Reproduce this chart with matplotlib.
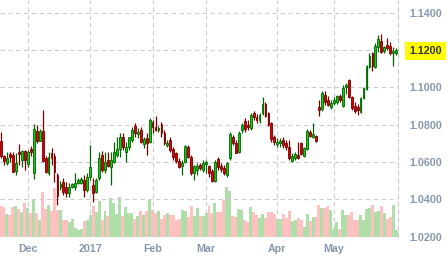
import numpy as np
import matplotlib.pyplot as plt

plt.rcParams['font.family'] = ['Liberation Sans', 'DejaVu Sans']

# daily candles (mid Nov 2016 .. end of May 2017)
opens = [1.0712, 1.0633, 1.0593, 1.0643, 1.0637, 1.0553, 1.0655, 1.0610, 1.0659, 1.0589,
         1.0669, 1.0542, 1.0766, 1.0714, 1.0766, 1.0621, 1.0542, 1.0650, 1.0632, 1.0530,
         1.0466, 1.0492, 1.0466, 1.0432, 1.0466, 1.0466, 1.0486, 1.0489, 1.0503, 1.0450,
         1.0519, 1.0476, 1.0441, 1.0514, 1.0637, 1.0557, 1.0610, 1.0575, 1.0601, 1.0637,
         1.0668, 1.0735, 1.0655, 1.0678, 1.0718, 1.0794, 1.0748, 1.0771, 1.0696, 1.0727,
         1.0708, 1.0816, 1.0786, 1.0771, 1.0803, 1.0757, 1.0689, 1.0718, 1.0668, 1.0648,
         1.0607, 1.0578, 1.0601, 1.0682, 1.0628, 1.0542, 1.0557, 1.0584, 1.0557, 1.0589,
         1.0578, 1.0553, 1.0499, 1.0614, 1.0578, 1.0569, 1.0530, 1.0620, 1.0735, 1.0703,
         1.0652, 1.0771, 1.0819, 1.0798, 1.0780, 1.0861, 1.0843, 1.0825, 1.0864, 1.0911,
         1.0861, 1.0807, 1.0735, 1.0696, 1.0700, 1.0718, 1.0703, 1.0682, 1.0607, 1.0620,
         1.0637, 1.0700, 1.0633, 1.0669, 1.0762, 1.0732, 1.0739, 1.0893, 1.0882, 1.0959,
         1.0932, 1.0893, 1.0914, 1.0920, 1.0954, 1.0900, 1.1000, 1.1039, 1.0950, 1.0900,
         1.0896, 1.0869, 1.0941, 1.0989, 1.1110, 1.1186, 1.1110, 1.1214, 1.1250, 1.1196,
         1.1227, 1.1221, 1.1182, 1.1186]
highs = [1.0762, 1.0638, 1.0655, 1.0655, 1.0655, 1.0646, 1.0696, 1.0664, 1.0664, 1.0664,
         1.0685, 1.0803, 1.0798, 1.0777, 1.0878, 1.0632, 1.0655, 1.0673, 1.0646, 1.0539,
         1.0498, 1.0512, 1.0493, 1.0485, 1.0490, 1.0542, 1.0512, 1.0518, 1.0530, 1.0539,
         1.0691, 1.0512, 1.0512, 1.0655, 1.0659, 1.0655, 1.0655, 1.0655, 1.0708, 1.0735,
         1.0753, 1.0755, 1.0708, 1.0735, 1.0786, 1.0807, 1.0780, 1.0789, 1.0735, 1.0753,
         1.0834, 1.0825, 1.0846, 1.0792, 1.0816, 1.0771, 1.0718, 1.0735, 1.0682, 1.0655,
         1.0620, 1.0610, 1.0691, 1.0691, 1.0637, 1.0584, 1.0596, 1.0593, 1.0610, 1.0610,
         1.0584, 1.0560, 1.0610, 1.0628, 1.0593, 1.0584, 1.0601, 1.0761, 1.0744, 1.0718,
         1.0766, 1.0807, 1.0834, 1.0825, 1.0861, 1.0875, 1.0857, 1.0861, 1.0950, 1.0923,
         1.0870, 1.0816, 1.0744, 1.0727, 1.0727, 1.0735, 1.0718, 1.0718, 1.0646, 1.0655,
         1.0708, 1.0708, 1.0682, 1.0775, 1.0771, 1.0807, 1.0744, 1.0932, 1.0980, 1.0980,
         1.0954, 1.0932, 1.0946, 1.0959, 1.0964, 1.1012, 1.1025, 1.1043, 1.0954, 1.0923,
         1.0911, 1.0946, 1.1003, 1.1120, 1.1186, 1.1191, 1.1236, 1.1280, 1.1286, 1.1221,
         1.1263, 1.1245, 1.1214, 1.1209]
lows = [1.0621, 1.0584, 1.0584, 1.0601, 1.0546, 1.0530, 1.0584, 1.0575, 1.0557, 1.0571,
        1.0632, 1.0507, 1.0700, 1.0712, 1.0600, 1.0539, 1.0530, 1.0584, 1.0494, 1.0369,
        1.0450, 1.0425, 1.0412, 1.0414, 1.0460, 1.0450, 1.0480, 1.0484, 1.0414, 1.0441,
        1.0503, 1.0387, 1.0432, 1.0503, 1.0548, 1.0539, 1.0575, 1.0476, 1.0593, 1.0628,
        1.0628, 1.0664, 1.0601, 1.0664, 1.0708, 1.0735, 1.0727, 1.0700, 1.0673, 1.0637,
        1.0700, 1.0753, 1.0767, 1.0762, 1.0735, 1.0691, 1.0682, 1.0655, 1.0610, 1.0593,
        1.0566, 1.0530, 1.0593, 1.0620, 1.0530, 1.0503, 1.0530, 1.0557, 1.0548, 1.0539,
        1.0521, 1.0494, 1.0494, 1.0557, 1.0548, 1.0530, 1.0521, 1.0610, 1.0691, 1.0646,
        1.0646, 1.0753, 1.0762, 1.0771, 1.0771, 1.0825, 1.0807, 1.0807, 1.0852, 1.0843,
        1.0793, 1.0708, 1.0691, 1.0678, 1.0682, 1.0673, 1.0664, 1.0610, 1.0601, 1.0610,
        1.0614, 1.0637, 1.0628, 1.0664, 1.0732, 1.0727, 1.0708, 1.0846, 1.0875, 1.0905,
        1.0900, 1.0882, 1.0905, 1.0911, 1.0921, 1.0895, 1.0964, 1.0941, 1.0878, 1.0861,
        1.0852, 1.0864, 1.0936, 1.0986, 1.1102, 1.1089, 1.1102, 1.1191, 1.1186, 1.1182,
        1.1200, 1.1173, 1.1114, 1.1173]
closes = [1.0633, 1.0605, 1.0621, 1.0628, 1.0548, 1.0596, 1.0641, 1.0659, 1.0610, 1.0655,
          1.0653, 1.0777, 1.0714, 1.0766, 1.0607, 1.0548, 1.0628, 1.0620, 1.0548, 1.0417,
          1.0482, 1.0439, 1.0434, 1.0467, 1.0482, 1.0489, 1.0503, 1.0509, 1.0450, 1.0521,
          1.0573, 1.0432, 1.0503, 1.0621, 1.0557, 1.0601, 1.0578, 1.0610, 1.0655, 1.0669,
          1.0735, 1.0682, 1.0682, 1.0734, 1.0771, 1.0753, 1.0762, 1.0708, 1.0721, 1.0703,
          1.0825, 1.0789, 1.0771, 1.0784, 1.0753, 1.0703, 1.0703, 1.0664, 1.0629, 1.0603,
          1.0575, 1.0596, 1.0685, 1.0628, 1.0542, 1.0578, 1.0578, 1.0566, 1.0593, 1.0601,
          1.0542, 1.0499, 1.0601, 1.0571, 1.0561, 1.0539, 1.0593, 1.0750, 1.0703, 1.0650,
          1.0754, 1.0798, 1.0775, 1.0786, 1.0852, 1.0839, 1.0825, 1.0852, 1.0911, 1.0846,
          1.0798, 1.0721, 1.0708, 1.0708, 1.0712, 1.0691, 1.0678, 1.0620, 1.0634, 1.0641,
          1.0620, 1.0643, 1.0673, 1.0766, 1.0739, 1.0748, 1.0714, 1.0878, 1.0971, 1.0920,
          1.0905, 1.0918, 1.0932, 1.0954, 1.0932, 1.0996, 1.1012, 1.0946, 1.0888, 1.0875,
          1.0878, 1.0941, 1.0995, 1.1114, 1.1168, 1.1114, 1.1221, 1.1257, 1.1191, 1.1214,
          1.1209, 1.1182, 1.1196, 1.1200]
volumes = [31, 30, 23, 22, 30, 31, 28, 25, 34, 29, 24, 38, 24, 17, 45, 28, 32, 26, 49, 27, 27,
           17, 17, 15, 18, 9, 7, 8, 16, 17, 22, 31, 25, 36, 17, 26, 21, 39, 34, 23, 40,
           21, 30, 24, 24, 18, 21, 26, 22, 26, 37, 27, 24, 26, 18, 22, 24, 22, 22, 17,
           18, 27, 26, 20, 31, 21, 29, 21, 21, 24, 31, 24, 34, 25, 25, 37, 50, 46, 21,
           20, 28, 27, 17, 15, 30, 25, 22, 19, 23, 19, 25, 25, 23, 18, 18, 23, 19, 26,
           16, 17, 19, 17, 10, 23, 16, 20, 20, 32, 29, 29, 31, 27, 8, 15, 8, 27, 22,
           22, 25, 17, 17, 22, 17, 28, 29, 32, 25, 26, 31, 24, 18, 20, 32, 7]

# candle index where each month starts, and its label
month_first = [9, 30, 51, 69, 93, 112]
month_names = ['Dec', '2017', 'Feb', 'Mar', 'Apr', 'May']
price_ticks = [1.02, 1.04, 1.06, 1.08, 1.10, 1.12, 1.14]
last_label = '1.1200'

o = np.array(opens)
h = np.array(highs)
l = np.array(lows)
c = np.array(closes)
x = np.arange(len(o))
up = c >= o

fig = plt.figure(figsize=(4.48, 2.66), dpi=100)
ax = fig.add_axes([0, 29 / 266, 398 / 448, 237 / 266])
ax2 = ax.twinx()

# volume underneath
ax2.bar(x, volumes, width=1.0, color=np.where(up, '#aedfa8', '#ffc0c0'), linewidth=0)
ax2.set_ylim(0, 237)
ax2.axis('off')
ax.set_zorder(ax2.get_zorder() + 1)
ax.patch.set_visible(False)

# candles
edge = np.where(up, '#006400', '#7a0000')
fill = np.where(up, '#11cc11', '#dd0000')
ax.vlines(x, l, h, colors=edge, linewidth=0.9, zorder=3)
body = np.maximum(np.abs(c - o), 0.0004)
ax.bar(x, body, bottom=np.minimum(o, c), width=0.62, color=fill,
       edgecolor=edge, linewidth=0.6, zorder=4)

ax.set_xlim(-0.34, 133.6)
ax.set_ylim(1.0198, 1.1468)

ax.yaxis.tick_right()
ax.set_yticks(price_ticks)
ax.set_yticklabels(['%.4f' % v for v in price_ticks])
ax.set_xticks(month_first)
ax.set_xticklabels(month_names)
ax.tick_params(axis='y', length=0, pad=8, labelsize=7.7, labelcolor='#8797ad')
ax.tick_params(axis='x', length=0, pad=5, labelsize=7.7, labelcolor='#8797ad')
for lab in ax.get_yticklabels() + ax.get_xticklabels():
    lab.set_fontweight('bold')
for lab in ax.get_yticklabels():
    if lab.get_text() == last_label:
        lab.set_color('#333333')
        lab.set_bbox(dict(facecolor='#ffff00', edgecolor='none', boxstyle='square,pad=0.4'))

ax.grid(True, color='#cccccc', linestyle=(0, (4, 3)), linewidth=0.8)
ax.set_axisbelow(True)
for s in ['left', 'top', 'bottom']:
    ax.spines[s].set_visible(False)
ax.spines['right'].set_color('#cccccc')
ax.spines['right'].set_linestyle((0, (4, 3)))
ax.spines['right'].set_linewidth(0.8)

fig.savefig('out.png', dpi=100)
